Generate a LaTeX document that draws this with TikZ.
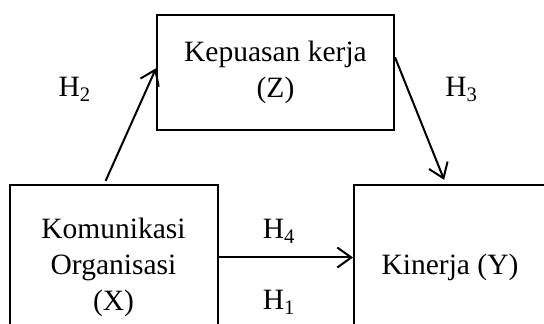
\documentclass[tikz,border=0pt]{standalone}
\usepackage{fontspec}
\setmainfont{Liberation Serif}
\usetikzlibrary{arrows.meta,positioning}

\tikzset{
  box/.style={draw, align=center, inner sep=0pt},
  hlabel/.style={inner sep=0pt}
}

\begin{document}
\begin{tikzpicture}[x=1pt, y=1pt, >={Straight Barb[length=14pt,width=20pt]},
    line width=2pt, font=\fontsize{29.5}{36}\selectfont]
    \useasboundingbox (0,0) rectangle (544,324);
    \fill [white] (0,0) rectangle (544,324);

    \node [box, minimum width=237, minimum height=115] (Z) at (275.5,251.7) {Kepuasan kerja\\(Z)};
    \node [box, minimum width=208, minimum height=163] (X) at (113.5,57) {Komunikasi\\Organisasi\\(X)};
    \node [box, minimum width=192, minimum height=163] (Y) at (450,57) {Kinerja (Y)};

    \node [hlabel] (H2) at (74.6,234.5) {H\textsubscript{2}};
    \node [hlabel] (H3) at (461.5,234.5) {H\textsubscript{3}};
    \node [hlabel] (H4) at (279,92.6) {H\textsubscript{4}};
    \node [hlabel] (H1) at (279,22) {H\textsubscript{1}};

    \draw [->, shorten <=4pt] ([xshift=-9.5]X.north) -- ([yshift=4]Z.west);
    \draw [->, shorten >=5pt] ([yshift=15]Z.east) -- ([xshift=-4]Y.north);
    \draw [->] ([yshift=9.5]X.east) -- ([yshift=9.5]Y.west);
\end{tikzpicture}
\end{document}
